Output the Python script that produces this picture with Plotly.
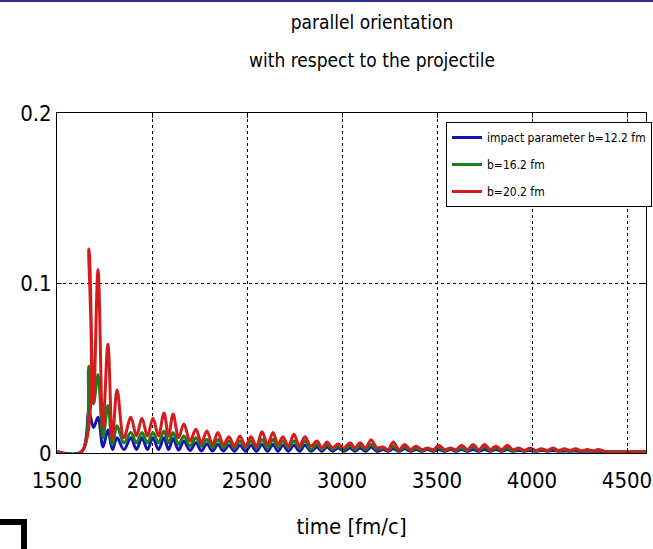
import plotly.graph_objects as go

# ---- data ----
start_t = [1500, 1630]
peak_t = [1668, 1716, 1768, 1816, 1889, 1947, 2005, 2063, 2111, 2168, 2231, 2289,
          2347, 2405, 2463, 2521, 2579, 2637, 2689, 2747, 2805, 2868, 2921, 2979,
          3042, 3095, 3153, 3216, 3270, 3330, 3390, 3450, 3510, 3570, 3630, 3690,
          3750, 3810, 3870, 3930, 3990, 4050, 4110, 4170, 4230, 4290, 4350]
trough_t = [1692, 1742, 1792, 1852, 1918, 1976, 2034, 2087, 2140, 2200, 2260, 2318,
            2376, 2434, 2492, 2550, 2608, 2663, 2718, 2776, 2836, 2895, 2950, 3010,
            3068, 3124, 3185, 3243, 3300, 3360, 3420, 3480, 3540, 3600, 3660, 3720,
            3780, 3840, 3900, 3960, 4020, 4080, 4140, 4200, 4260, 4320]
end_t = [4390, 4600]

red_start = [0.0008, 0.0008]
red_peaks = [0.120, 0.108, 0.064, 0.037, 0.021, 0.0205, 0.0205, 0.0235, 0.023, 0.017,
             0.014, 0.013, 0.012, 0.0095, 0.010, 0.0095, 0.0125, 0.012, 0.0095, 0.011,
             0.0095, 0.007, 0.0065, 0.0053, 0.006, 0.006, 0.0076, 0.0035, 0.0065, 0.005,
             0.004, 0.003, 0.0045, 0.003, 0.0045, 0.005, 0.005, 0.004, 0.0045, 0.003,
             0.003, 0.0025, 0.003, 0.0025, 0.0025, 0.002, 0.002]
red_troughs = [0.030, 0.015, 0.008, 0.009, 0.010, 0.010, 0.010, 0.010, 0.009, 0.007,
               0.006, 0.005, 0.005, 0.004, 0.004, 0.004, 0.005, 0.005, 0.004, 0.004,
               0.004, 0.003, 0.003, 0.003, 0.003, 0.003, 0.003, 0.002, 0.002, 0.002,
               0.002, 0.002, 0.002, 0.002, 0.002, 0.002, 0.002, 0.002, 0.002, 0.0015,
               0.0015, 0.0015, 0.0015, 0.0015, 0.0012, 0.0012]
red_end = [0.0008, 0.0008]

green_start = [0.0008, 0.0008]
green_peaks = [0.051, 0.046, 0.028, 0.016, 0.012, 0.012, 0.012, 0.013, 0.012, 0.010,
               0.009, 0.008, 0.008, 0.007, 0.007, 0.007, 0.008, 0.008, 0.007, 0.007,
               0.007, 0.005, 0.005, 0.004, 0.0045, 0.0045, 0.005, 0.003, 0.004, 0.0035,
               0.003, 0.0025, 0.003, 0.0025, 0.003, 0.0035, 0.0035, 0.003, 0.003, 0.0025,
               0.0025, 0.002, 0.0025, 0.002, 0.002, 0.0015, 0.0015]
green_troughs = [0.029, 0.009, 0.005, 0.006, 0.006, 0.006, 0.006, 0.006, 0.005, 0.004,
                 0.004, 0.003, 0.003, 0.003, 0.003, 0.003, 0.003, 0.003, 0.003, 0.003,
                 0.002, 0.002, 0.002, 0.002, 0.002, 0.002, 0.002, 0.0015, 0.0015, 0.0015,
                 0.0015, 0.0015, 0.0015, 0.0015, 0.0015, 0.0015, 0.0015, 0.0015, 0.0012, 0.0012,
                 0.0012, 0.0012, 0.0012, 0.001, 0.001, 0.001]
green_end = [0.0008, 0.0008]

blue_start = [0.0008, 0.0008]
blue_peaks = [0.024, 0.021, 0.0135, 0.009, 0.009, 0.009, 0.009, 0.009, 0.0085, 0.007,
              0.006, 0.0055, 0.005, 0.0045, 0.0045, 0.0045, 0.005, 0.005, 0.0045, 0.0045,
              0.0045, 0.0035, 0.0035, 0.003, 0.003, 0.003, 0.0035, 0.002, 0.0025, 0.0025,
              0.002, 0.002, 0.002, 0.002, 0.002, 0.002, 0.002, 0.002, 0.002, 0.0015,
              0.0015, 0.0015, 0.0015, 0.0012, 0.0012, 0.001, 0.001]
blue_troughs = [0.015, 0.0035, 0.002, 0.002, 0.002, 0.002, 0.002, 0.002, 0.0018, 0.0015,
                0.0012, 0.0012, 0.0012, 0.001, 0.001, 0.001, 0.001, 0.001, 0.001, 0.001,
                0.001, 0.001, 0.001, 0.001, 0.001, 0.001, 0.001, 0.001, 0.001, 0.001,
                0.001, 0.001, 0.001, 0.001, 0.001, 0.001, 0.001, 0.001, 0.001, 0.001,
                0.001, 0.001, 0.001, 0.001, 0.001, 0.001]
blue_end = [0.0008, 0.0008]

names = ["impact parameter b=12.2 fm", "b=16.2 fm", "b=20.2 fm"]
colors = ["#1414b4", "#1a7d1a", "#d41c1c"]
x_ticks = [1500, 2000, 2500, 3000, 3500, 4000, 4500]
y_ticks = [0, 0.1, 0.2]
y_tick_labels = ["0", "0.1", "0.2"]
title_line1 = "parallel orientation"
title_line2 = "with respect to the projectile"
x_title = "time [fm/c]"


def merge(st, pk, tr, en):
    pts = list(zip(start_t, st))
    for i, p in enumerate(pk):
        pts.append((peak_t[i], p))
        if i < len(tr):
            pts.append((trough_t[i], tr[i]))
    pts += list(zip(end_t, en))
    return [a for a, _ in pts], [b for _, b in pts]


series = [
    (blue_start, blue_peaks, blue_troughs, blue_end),
    (green_start, green_peaks, green_troughs, green_end),
    (red_start, red_peaks, red_troughs, red_end),
]

FONT = "DejaVu Sans Condensed, Liberation Sans, Arial, sans-serif"

fig = go.Figure()
for (s, name, col) in zip(series, names, colors):
    xs, ys = merge(*s)
    fig.add_trace(go.Scatter(x=xs, y=ys, mode="lines", name=name, legendgroup=name,
                             line=dict(color=col, width=3, shape="spline", smoothing=1.0)))

L, R, T, B = 57, 7, 113, 96
W, H = 653, 549
pw, ph = W - L - R, H - T - B

def px(xp):
    return (xp - L) / pw

def py(yp):
    return (H - B - yp) / ph

fig.update_layout(
    width=W, height=H,
    margin=dict(l=L, r=R, t=T, b=B, autoexpand=False),
    paper_bgcolor="white", plot_bgcolor="white",
    font=dict(family=FONT, color="black"),
    title=dict(text=title_line1, x=px(372), xanchor="center", xref="paper",
               y=1 - 22 / H, yanchor="middle", font=dict(size=19, family=FONT)),
    annotations=[
        dict(text=title_line2, xref="paper", yref="paper", x=px(372), y=py(60),
             xanchor="center", yanchor="middle", showarrow=False,
             font=dict(size=19, family=FONT)),
    ],
    showlegend=True,
    legend=dict(x=px(446), y=py(122), xanchor="left", yanchor="top",
                bordercolor="black", borderwidth=1, bgcolor="white",
                font=dict(size=12, family=FONT), tracegroupgap=8,
                traceorder="grouped"),
    xaxis=dict(range=[1500, 4600], tickvals=x_ticks, ticktext=[str(v) for v in x_ticks],
               showline=True, linecolor="black", linewidth=1, mirror="ticks",
               ticks="inside", ticklen=5, tickcolor="black",
               showgrid=True, gridcolor="black", griddash="dot", gridwidth=1,
               zeroline=False, tickfont=dict(size=22, family=FONT), automargin=False,
               ticklabeloverflow="allow", ticklabelstandoff=8,
               title=dict(text=x_title, font=dict(size=22, family=FONT), standoff=26)),
    yaxis=dict(range=[0, 0.2], tickvals=y_ticks, ticktext=y_tick_labels,
               showline=True, linecolor="black", linewidth=1, mirror="ticks",
               ticks="inside", ticklen=5, tickcolor="black",
               showgrid=True, gridcolor="black", griddash="dot", gridwidth=1,
               zeroline=False, tickfont=dict(size=22, family=FONT), automargin=False,
               ticklabeloverflow="allow"),
    shapes=[
        dict(type="line", xref="paper", yref="paper", x0=px(0), x1=px(W), y0=py(1), y1=py(1),
             line=dict(color="#2b2b9c", width=2)),
        dict(type="line", xref="paper", yref="paper", x0=px(0), x1=px(24), y0=py(522), y1=py(522),
             line=dict(color="black", width=6)),
        dict(type="line", xref="paper", yref="paper", x0=px(24), x1=px(24), y0=py(519), y1=py(552),
             line=dict(color="black", width=6)),
    ],
)

fig.write_html("out.html", config={"displayModeBar": False},
               post_script="document.body.style.margin='0';document.body.style.overflow='hidden';")
